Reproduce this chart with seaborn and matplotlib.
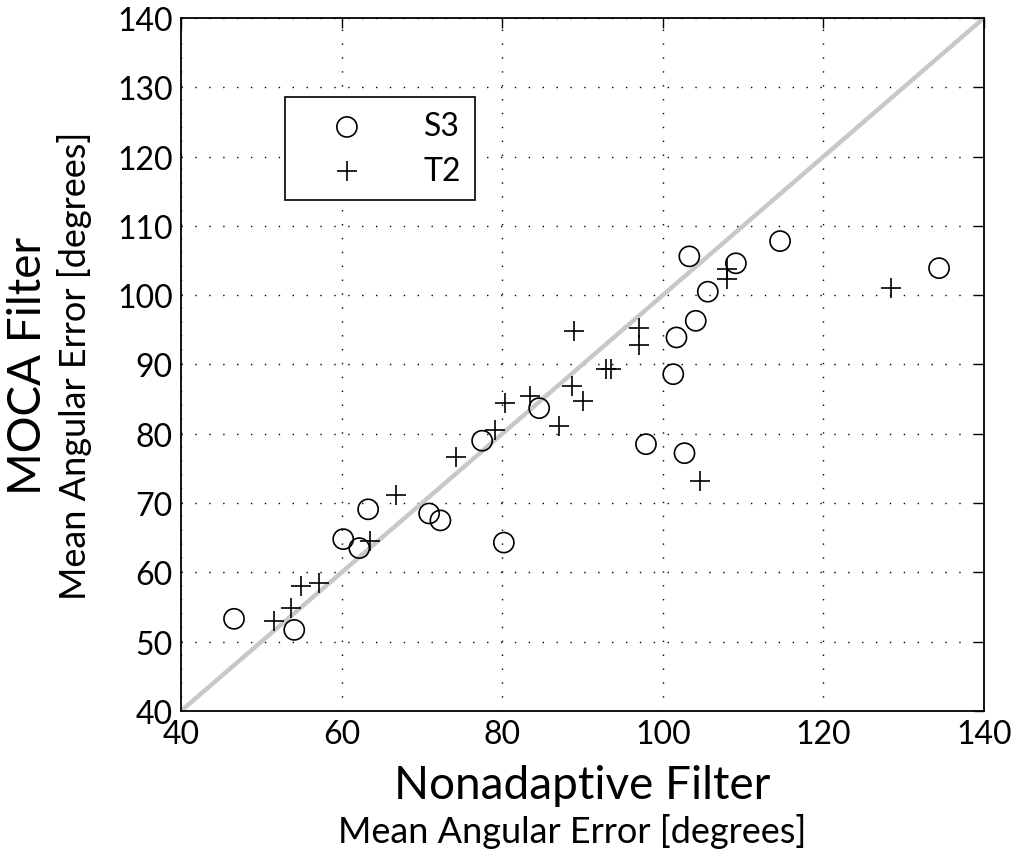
import seaborn as sns
import matplotlib.pyplot as plt
import pandas as pd

# S3 (circles) and T2 (crosses): nonadaptive vs MOCA mean angular error
s3_nonadaptive = [46.6, 54.1, 60.2, 62.2, 63.3, 70.9, 72.3, 77.5, 80.2, 84.6,
                  97.9, 101.3, 101.7, 102.7, 103.3, 104.1, 105.6, 109.1, 114.6, 134.4]
s3_moca = [53.3, 51.7, 64.8, 63.5, 69.1, 68.5, 67.5, 79.0, 64.3, 83.7,
           78.5, 88.6, 93.9, 77.2, 105.6, 96.3, 100.5, 104.6, 107.8, 103.9]

t2_nonadaptive = [51.6, 53.7, 54.9, 57.2, 63.5, 66.8, 74.3, 79.1, 80.4, 83.4, 87.1,
                  88.7, 88.9, 90.1, 92.9, 93.6, 97.0, 97.0, 104.6, 108.0, 108.0, 128.4]
t2_moca = [53.0, 54.8, 58.0, 58.4, 64.5, 71.1, 76.7, 80.5, 84.4, 85.5, 81.1,
           86.9, 94.8, 84.7, 89.3, 89.4, 95.3, 92.8, 73.2, 103.8, 102.4, 101.1]

axis_range = [40, 140]
ticks = [40, 60, 80, 100, 120, 140]
yticks = [40, 50, 60, 70, 80, 90, 100, 110, 120, 130, 140]

s3 = pd.DataFrame({"x": s3_nonadaptive, "y": s3_moca})
t2 = pd.DataFrame({"x": t2_nonadaptive, "y": t2_moca})

sns.set_style("white")
plt.rcParams["font.family"] = ["Lato", "DejaVu Sans"]
plt.rcParams["text.color"] = "k"
plt.rcParams["xtick.color"] = "k"
plt.rcParams["ytick.color"] = "k"

fig = plt.figure(figsize=(10.13, 8.54), dpi=100)
ax = fig.add_axes([0.1787, 0.1663, 0.7927, 0.8115])

ax.plot(axis_range, axis_range, color="#c8c8c8", lw=3.2, zorder=1)

sns.scatterplot(data=s3, x="x", y="y", marker="o", s=210, facecolor="none",
                edgecolor="k", linewidth=1.2, label="S3", ax=ax, zorder=3)
sns.scatterplot(data=t2, x="x", y="y", marker="+", s=210, color="k",
                linewidth=1.2, label="T2", ax=ax, zorder=3)

ax.set_xlim(axis_range)
ax.set_ylim(axis_range)
ax.set_xticks(ticks)
ax.set_yticks(yticks)
ax.grid(True, color="k", linestyle=(0, (1, 9)), lw=1.0)
ax.tick_params(direction="in", length=7, width=1, labelsize=23,
               top=True, right=True, pad=6)
for sp in ax.spines.values():
    sp.set_linewidth(1.3)
    sp.set_color("k")
ax.set_xlabel("")
ax.set_ylabel("")

leg = ax.legend(loc="upper left", bbox_to_anchor=(0.129, 0.886), fontsize=23,
                frameon=True, fancybox=False, edgecolor="k", framealpha=1,
                borderpad=0.45, handletextpad=0.9, labelspacing=0.45,
                borderaxespad=0, handlelength=3.0)
leg.get_frame().set_linewidth(1.2)

fig.text(0.575, 0.080, "Nonadaptive Filter", ha="center", va="center", fontsize=33)
fig.text(0.565, 0.026, "Mean Angular Error [degrees]", ha="center", va="center", fontsize=26)
fig.text(0.028, 0.572, "MOCA Filter", ha="center", va="center", rotation=90, fontsize=33)
fig.text(0.074, 0.572, "Mean Angular Error [degrees]", ha="center", va="center",
         rotation=90, fontsize=26)

fig.savefig("out.png", dpi=100)
